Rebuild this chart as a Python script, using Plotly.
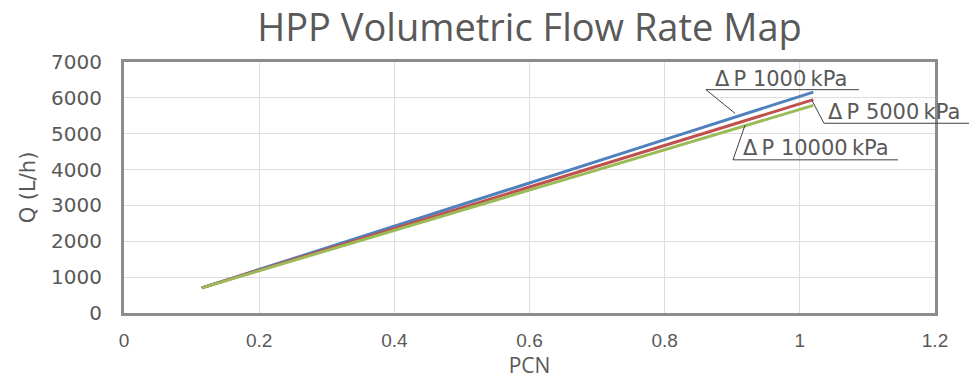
import plotly.graph_objects as go

# ---- data ----
pcn = [0.115, 0.2, 0.4, 0.6, 0.8, 1.02]
q_dp1000 = [700, 1215, 2420, 3625, 4835, 6160]
q_dp5000 = [700, 1195, 2355, 3515, 4675, 5950]
q_dp10000 = [700, 1180, 2305, 3430, 4550, 5790]
series_names = ["ΔP 1000kPa", "ΔP 5000kPa", "ΔP 10000kPa"]
series_colors = ["#4F81BD", "#C0504D", "#9BBB59"]
x_ticks = [0, 0.2, 0.4, 0.6, 0.8, 1, 1.2]
x_tick_text = ["0", "0.2", "0.4", "0.6", "0.8", "1", "1.2"]
y_ticks = [0, 1000, 2000, 3000, 4000, 5000, 6000, 7000]

W, H = 973, 379
L, R, T, B = 124, 38, 62, 63
PW, PH = W - L - R, H - T - B

def px(xp):
    return (xp - L) / PW

def py(yp):
    return (H - B - yp) / PH

fig = go.Figure()
for name, ys, col in zip(series_names, [q_dp1000, q_dp5000, q_dp10000], series_colors):
    fig.add_trace(go.Scatter(x=pcn, y=ys, mode="lines", name=name,
                             line=dict(color=col, width=3), showlegend=False))

grey = "#595959"
axis_line = "#8C8C8C"
grid = "#DEDEDE"

fig.update_layout(
    width=W, height=H,
    margin=dict(l=L, r=R, t=T, b=B),
    paper_bgcolor="white", plot_bgcolor="white",
    title=dict(text="HPP Volumetric Flow Rate Map", x=0.5, xref="paper",
               y=1 - 28 / H, yanchor="middle",
               font=dict(family="Open Sans", size=38, color=grey)),
    xaxis=dict(range=[0, 1.2], tickvals=x_ticks, ticktext=x_tick_text,
               showgrid=True, gridcolor=grid, gridwidth=1,
               showline=True, linecolor=axis_line, linewidth=3, mirror=True,
               zeroline=False, ticks="", ticklabelstandoff=8,
               tickfont=dict(family="Liberation Sans", size=19, color=grey),
               title=dict(text="PCN", standoff=2,
                          font=dict(family="Open Sans", size=21, color=grey))),
    yaxis=dict(range=[0, 7000], tickvals=y_ticks,
               showgrid=True, gridcolor=grid, gridwidth=1,
               showline=True, linecolor=axis_line, linewidth=3, mirror=True,
               zeroline=False, ticks="", ticklabelstandoff=15,
               tickfont=dict(family="DejaVu Sans", size=20, color=grey),
               title=dict(text="Q (L/h)", standoff=10,
                          font=dict(family="DejaVu Sans", size=21, color=grey))),
)

# data labels with leader lines (Excel-style callouts)
labels = [
    # text, text-left px, text-mid px, underline y, underline x0, x1, leader end (px)
    (series_names[0], 713, 79, 90, 706, 859, (735, 114)),
    (series_names[1], 826, 113, 124, 824, 969, (812, 101)),
    (series_names[2], 741, 149, 161, 733, 898, (745, 126)),
]
line_style = dict(color="#404040", width=1)
for txt, tx, ty, uy, ux0, ux1, (lx, ly) in labels:
    fig.add_annotation(text=txt.replace("ΔP ", "Δ\u2009P ").replace("kPa", "\u2009kPa"),
                       xref="paper", yref="paper",
                       x=px(tx), y=py(ty), xanchor="left", yanchor="middle",
                       showarrow=False,
                       font=dict(family="DejaVu Sans", size=21, color=grey))
    fig.add_shape(type="line", xref="paper", yref="paper",
                  x0=px(ux0), x1=px(ux1), y0=py(uy), y1=py(uy), line=line_style)
    fig.add_shape(type="line", xref="paper", yref="paper",
                  x0=px(ux0), x1=px(lx), y0=py(uy), y1=py(ly), line=line_style)

fig.write_html("out.html")
